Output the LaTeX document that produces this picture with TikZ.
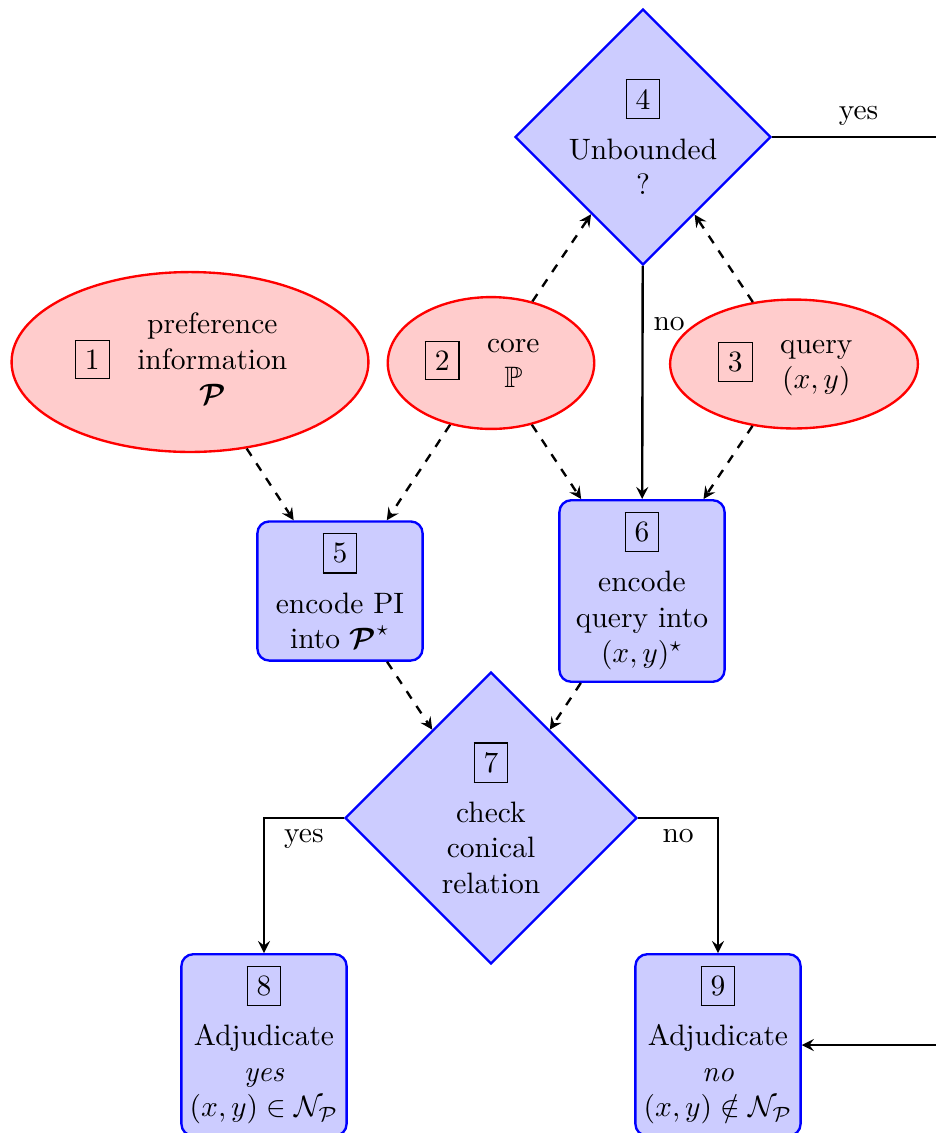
\documentclass[tikz,border=0pt]{standalone}
\usepackage{amsmath}
\usepackage{amssymb}
\usepackage{tikz}
\usetikzlibrary{shapes.geometric,arrows}

\tikzset{
    input/.style={ellipse,draw=red,fill=red!20,thick,inner sep=2pt},
    process/.style={rectangle,rounded corners,draw=blue,fill=blue!20,thick,
        text width=48pt,inner sep=4pt,align=center},
    decision/.style={diamond,draw=blue,fill=blue!20,thick,align=center,inner sep=-3pt},
    dep/.style={dashed,thick,-stealth},
    flow/.style={thick,-stealth}
}

\begin{document}
\begin{tikzpicture}[x=0.011914cm,y=-0.011914cm]
        \useasboundingbox (0,0) rectangle (936,1133);
        % Inputs
        \node[input,minimum width=121pt,minimum height=61pt] (pref) at (190,362)
            {\fbox{1} \begin{tabular}{c}preference\\information\\$\boldsymbol{\mathcal{P}}$\end{tabular}};
        \node[input,minimum width=70pt,minimum height=44.7pt] (core) at (491,363)
            {\fbox{2} \begin{tabular}{c}core\\$\mathbb{P}$\end{tabular}};
        \node[input,minimum width=84pt,minimum height=43.7pt] (query) at (794,364)
            {\fbox{3} \begin{tabular}{c}query\\$(x,y)$\end{tabular}};
        % Test and encoding
        \node[decision,minimum width=86.8pt,minimum height=86.8pt] (unb) at (643,137)
            {\fbox{4}\\[5pt] Unbounded\\ ?};
        \node[process] (encpi) at (340,591)
            {\fbox{5}\\[5pt] encode PI\\ into $\boldsymbol{\mathcal{P}}^\star$};
        \node[process] (encq) at (642,591)
            {\fbox{6}\\[5pt] encode\\ query into\\ $(x,y)^\star$};
        \node[decision,minimum width=99pt,minimum height=99pt] (cone) at (491,818)
            {\fbox{7}\\[5pt] check\\ conical\\ relation};
        % Results
        \node[process] (adyes) at (264,1045)
            {\fbox{8}\\[5pt] Adjudicate\\ \textit{yes}\\
            \makebox[\linewidth]{$(x,y)\in\mathcal{N}_{\mathcal{P}}$}};
        \node[process] (adno) at (718,1045)
            {\fbox{9}\\[5pt] Adjudicate\\ \textit{no}\\
            \makebox[\linewidth]{$(x,y)\notin\mathcal{N}_{\mathcal{P}}$}};
        \coordinate (bend) at (945,137);

        % Dependencies
        \draw[dep] (core) -- (unb);
        \draw[dep] (query) -- (unb);
        \draw[dep] (pref) -- (encpi);
        \draw[dep] (core) -- (encpi);
        \draw[dep] (core) -- (encq);
        \draw[dep] (query) -- (encq);
        \draw[dep] (encpi) -- (cone);
        \draw[dep] (encq) -- (cone);

        % Decisions
        \draw[flow] (unb) -- node[near start,right] {no} (encq);
        \draw[flow] (unb.east) -- node[above] {yes} (bend) |- (adno.east);
        \draw[flow] (cone.west) -| node[near start,below] {yes} (adyes.north);
        \draw[flow] (cone.east) -| node[near start,below] {no} (adno.north);
    \end{tikzpicture}
\end{document}
